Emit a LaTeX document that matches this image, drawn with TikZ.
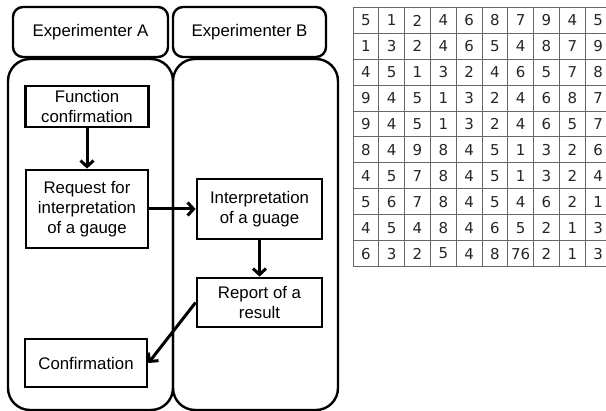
\documentclass[tikz,border=0pt]{standalone}
\usepackage{fontspec}
\setmainfont{Liberation Sans}
\newfontfamily\cellfont{DejaVu Sans}
\usetikzlibrary{arrows.meta}
\begin{document}
\begin{tikzpicture}[x=1pt,y=-1pt,
  boxline/.style={line width=2.4pt},
  labelfont/.style={font=\fontsize{16.8}{19.8}\selectfont},
  header/.style={draw, boxline, labelfont, rounded corners=10pt, minimum height=50pt, inner sep=0pt},
  lane/.style={draw, boxline, rounded corners=22pt, minimum width=165pt, minimum height=351pt, inner sep=0pt},
  stepbox/.style={draw, line width=2.8pt, labelfont, align=center, inner sep=0pt, fill=white},
  flow/.style={line width=3pt, -{Straight Barb[length=6pt,width=13pt]}},
  tablerule/.style={draw=black!60, line width=1pt},
  cell/.style={font=\cellfont\fontsize{15}{17}\selectfont, text=black!85, inner sep=0pt}
]
\useasboundingbox (0,0) rectangle (606,411);

% swimlanes and their titles
\node[lane] (laneA) at (90.5,234.5) {};
\node[lane] (laneB) at (255.5,234.5) {};
\node[header, minimum width=155pt] (hA) at (90.5,32) {Experimenter A};
\node[header, minimum width=153pt] (hB) at (249.5,32) {Experimenter B};

% process steps
\node[stepbox, minimum width=123pt, minimum height=41pt] (fc) at (87,106.5) {Function\\confirmation};
\node[stepbox, minimum width=122pt, minimum height=78pt] (req) at (87,209) {Request for\\interpretation\\of a gauge};
\node[stepbox, minimum width=125pt, minimum height=60pt] (interp) at (259.5,209) {Interpretation\\of a guage};
\node[stepbox, minimum width=125pt, minimum height=49pt] (report) at (259.5,302.5) {Report of a\\result};
\node[stepbox, minimum width=122pt, minimum height=48pt] (conf) at (86,363) {Confirmation};

% flow between steps
\draw[flow] (fc) -- (req);
\draw[flow] (req) -- (interp);
\draw[flow] (interp) -- (report);
\draw[flow] (report.west) -- (conf.east);

% number table
\begin{scope}
  \clip (0,0) rectangle (606,411);
  \foreach \row [count=\r from 0] in {
    {5,1,2,4,6,8,7,9,4,5},
    {1,3,2,4,6,5,4,8,7,9},
    {4,5,1,3,2,4,6,5,7,8},
    {9,4,5,1,3,2,4,6,8,7},
    {9,4,5,1,3,2,4,6,5,7},
    {8,4,9,8,4,5,1,3,2,6},
    {4,5,7,8,4,5,1,3,2,4},
    {5,6,7,8,4,5,4,6,2,1},
    {4,5,4,8,4,6,5,2,1,3},
    {6,3,2,5,4,8,76,2,1,3}} {
    \foreach \v [count=\c from 0] in \row {
      \node[cell] (t-\r-\c) at ({353+25.8*\c+12.9},{7.5+25.9*\r+12.95}) {\v};
    }
  }
  \foreach \i in {0,...,10} {
    \draw[tablerule] (353,{7.5+25.9*\i}) -- (612,{7.5+25.9*\i});
    \draw[tablerule] ({353+25.8*\i},7.5) -- ({353+25.8*\i},266.5);
  }
\end{scope}
\end{tikzpicture}
\end{document}
